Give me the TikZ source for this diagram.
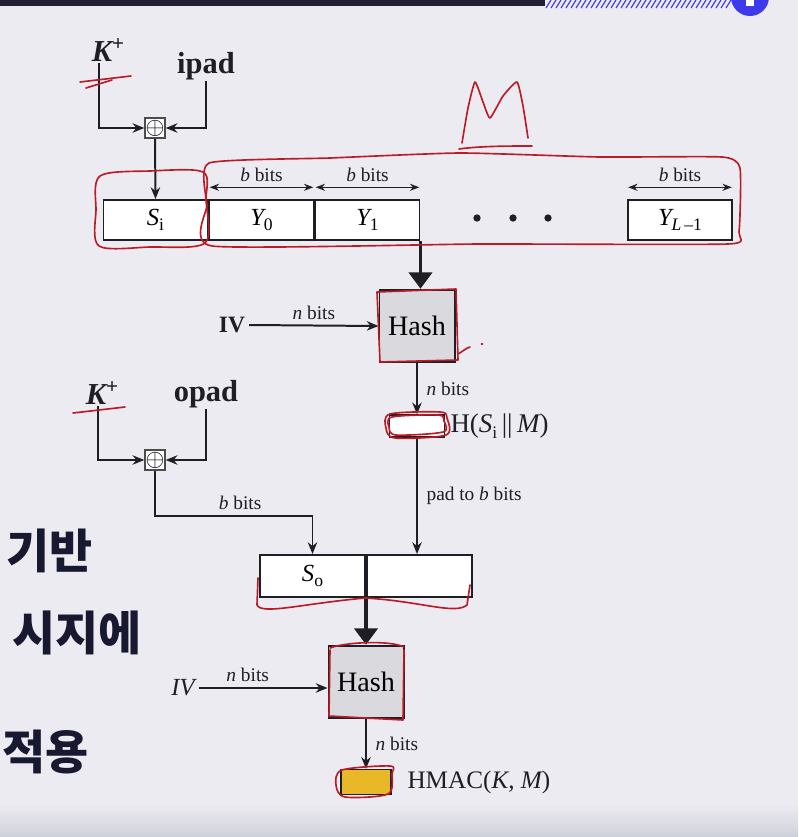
\documentclass[tikz,border=0pt]{standalone}
\usepackage{fontspec}
\setmainfont{Liberation Serif}
\newfontfamily\kofont{Noto Sans CJK KR}
\usetikzlibrary{arrows.meta, positioning, calc}

\definecolor{bgcol}{RGB}{236,235,242}
\definecolor{ink}{RGB}{30,30,36}
\definecolor{pencol}{RGB}{185,28,38}
\definecolor{hashgray}{RGB}{218,218,222}
\definecolor{hilite}{RGB}{232,184,40}
\definecolor{navy}{RGB}{24,24,48}
\definecolor{topbar}{RGB}{32,32,48}
\definecolor{bluebtn}{RGB}{62,58,235}

\newcommand{\subtx}[1]{\raisebox{-0.45ex}{\fontsize{15}{15}\selectfont #1}}

\tikzset{
  blk/.style={draw=ink, line width=1.7pt, fill=white, minimum width=3.12cm,
    minimum height=1.2cm, inner sep=0pt, font=\fontsize{21}{21}\selectfont},
  hashbox/.style={draw=ink, line width=1.7pt, fill=hashgray, minimum width=2.25cm,
    minimum height=2.18cm, inner sep=0pt, font=\fontsize{24}{24}\selectfont},
  xorbox/.style={draw=gray!60!black, line width=1.2pt, fill=white, minimum size=0.6cm,
    inner sep=0pt, font=\fontsize{20}{20}\selectfont},
  outbox/.style={draw=ink, line width=1.2pt, fill=white, inner sep=0pt},
  lbl/.style={font=\fontsize{16.5}{16.5}\selectfont, text=ink},
  big/.style={font=\fontsize{22}{22}\selectfont, text=ink},
  pads/.style={font=\fontsize{26}{26}\selectfont\bfseries, text=ink, inner sep=1pt},
  kplus/.style={font=\fontsize{26}{26}\selectfont\bfseries\itshape, text=ink, inner sep=1pt},
  kor/.style={font=\kofont\bfseries\fontsize{40}{40}\selectfont, text=navy, inner sep=0pt},
  arr/.style={draw=ink, line width=1.7pt, -{Stealth[length=10pt,width=8pt]}},
  dbl/.style={draw=ink, line width=1.3pt, {Stealth[length=8pt,width=6pt]}-{Stealth[length=8pt,width=6pt]}},
  fat/.style={draw=ink, line width=2.8pt, -{Triangle[length=14pt,width=20pt]}},
  pen/.style={draw=pencol, line width=1.4pt, line cap=round, line join=round}
}

\begin{document}
\begin{tikzpicture}[x=0.03cm, y=-0.03cm]
  \useasboundingbox (0,0) rectangle (798,837);
  \begin{scope}
  \clip (0,0) rectangle (798,837);
  % screen background
  \fill[bgcol] (0,0) rectangle (798,837);
  \shade[top color=bgcol, bottom color={rgb,255:red,206;green,208;blue,217}] (0,805) rectangle (798,837);
  \fill[topbar] (0,0) rectangle (545,6);
  \foreach \i in {0,...,36}
    \draw[bluebtn, line width=1pt] (546+\i*5,8) -- (551+\i*5,0);
  \fill[bluebtn] (750,-3) circle [radius=0.57cm];
  \fill[white] (746,-2) rectangle (754,6);
  \end{scope}

  % Korean slide text
  \node[kor, anchor=east] (ko1) at (93,551) {기반};
  \node[kor, anchor=east] (ko2) at (142,633) {시지에};
  \node[kor, anchor=east] (ko3) at (89,752) {적용};

  % inner key
  \node[kplus] (kA) at (108,50) {K\raisebox{0.8ex}{\fontsize{18}{18}\selectfont\upshape +}};
  \node[pads] (ipad) at (206,66) {ipad};
  \node[xorbox] (xorA) at (155,128) {$\oplus$};
  \draw[arr] ([xshift=-8pt]kA.south) |- (xorA.west);
  \draw[arr] (ipad.south) |- (xorA.east);

  % message blocks
  \node[blk] (si) at (155.5,220) {{\itshape S}\subtx{i}};
  \node[blk, right=0pt of si] (y0) {{\itshape Y}\subtx{0}};
  \node[blk, right=0pt of y0] (y1) {{\itshape Y}\subtx{1}};
  \node[blk] (yl) at (680,220) {{\itshape Y}\subtx{{\itshape L}\,–1}};
  \foreach \x in {477,513,548}
    \fill[ink] (\x,218) circle [radius=0.11cm];
  \foreach \blkname in {y0,y1,yl}
    \draw[dbl] ([xshift=1pt,yshift=10pt]\blkname.north west) -- ([xshift=-1pt,yshift=10pt]\blkname.north east)
      node[midway, above=1pt, lbl] {{\itshape b} bits};
  \draw[arr] (xorA.south) -- (si.north);

  % first hash
  \node[hashbox] (hashA) at (417,326) {Hash};
  \node[big, font=\fontsize{20}{20}\selectfont\bfseries] (ivA) at (232,325) {IV};
  \draw[fat] (y1.south east) -- (y1.south east |- hashA.north);
  \draw[arr] (ivA.east) -- (hashA.west) node[midway, above=1pt, lbl] {{\itshape n} bits};
  \node[outbox, minimum width=1.65cm, minimum height=0.66cm] (outA) at (417,426) {};
  \node[big, right=1pt of outA, font=\fontsize{23}{23}\selectfont] (hA) {H({\itshape S}\subtx{i}\,||\,{\itshape M})};
  \draw[arr] (hashA.south) -- (outA.north) node[midway, right=4pt, lbl] {{\itshape n} bits};

  % outer key
  \node[kplus] (kB) at (102,393) {K\raisebox{0.8ex}{\fontsize{18}{18}\selectfont\upshape +}};
  \node[pads] (opad) at (206,394) {opad};
  \node[xorbox] (xorB) at (155,460) {$\oplus$};
  \draw[arr] ([xshift=-3pt]kB.south) |- (xorB.west);
  \draw[arr] (opad.south) |- (xorB.east);

  % outer block
  \node[blk, minimum width=3.15cm, minimum height=1.26cm] (so) at (312.5,576) {{\itshape S}\subtx{o}};
  \node[blk, minimum width=3.15cm, minimum height=1.26cm, right=0pt of so] (sx) {};
  \draw[arr] (xorB.south) -- ++(0,45) -| (so.north) node[pos=0.27, above=1pt, lbl] {{\itshape b} bits};
  \draw[arr] (outA.south) -- (outA.south |- sx.north) node[midway, right=4pt, lbl] {pad to {\itshape b} bits};

  % second hash
  \node[hashbox] (hashB) at (366,682) {Hash};
  \node[big, font=\fontsize{21}{21}\selectfont\itshape] (ivB) at (183,688) {IV};
  \draw[fat] (so.south east) -- (so.south east |- hashB.north);
  \draw[arr] (ivB.east) -- (ivB.east -| hashB.west) node[pos=0.38, above=1pt, lbl] {{\itshape n} bits};
  \node[outbox, fill=hilite, minimum width=1.5cm, minimum height=0.75cm] (outB) at (366,782) {};
  \node[big, right=10pt of outB, font=\fontsize{21.5}{21.5}\selectfont] (hmac) {HMAC({\itshape K}, {\itshape M})};
  \draw[arr] (hashB.south) -- (outB.north) node[midway, right=4pt, lbl] {{\itshape n} bits};

  % red pen marks
  \draw[pen] (80,82) -- (131,76);
  \draw[pen] (86,88) -- (112,80);
  \draw[pen] plot[smooth cycle, tension=0.5] coordinates {(100,176) (150,171) (203,172) (206,200) (205,243) (150,247) (99,246) (96,210)};
  \draw[pen] plot[smooth cycle, tension=0.3] coordinates {(209,163) (330,158) (460,153) (600,157) (722,157) (740,168) (739,232) (728,244) (480,244) (212,246) (207,205)};
  \draw[pen] plot[smooth, tension=0.3] coordinates {(462,143) (468,108) (475,82) (483,102) (490,118) (503,96) (517,82) (523,106) (528,138)};
  \draw[pen] (459,149) .. controls (480,146) and (510,146) .. (532,146);
  \draw[pen] (377,292) -- (456,289) -- (458,360) -- (380,362) -- cycle;
  \draw[pen] (458,354) .. controls (462,352) and (466,348) .. (470,347);
  \fill[pencol] (482,344) circle [radius=0.04cm];
  \draw[pen] plot[smooth cycle, tension=0.5] coordinates {(390,414) (440,412) (447,418) (446,435) (395,438) (386,428)};
  \draw[pen] plot[smooth cycle, tension=0.5] coordinates {(392,417) (438,415) (444,421) (443,432) (396,435) (389,427)};
  \draw[pen] (73,413) -- (125,407);
  \draw[pen] (258,578) -- (257,605) .. controls (262,615) and (300,604) .. (365,598) .. controls (420,601) and (455,615) .. (467,605) -- (470,585);
  \draw[pen] (330,650) -- (329,716) -- (403,720) -- (404,650);
  \draw[pen] (330,648) .. controls (345,642) and (390,640) .. (404,647);
  \draw[pen] plot[smooth cycle, tension=0.5] coordinates {(342,770) (390,766) (392,774) (388,794) (345,797) (336,785)};
\end{tikzpicture}
\end{document}
